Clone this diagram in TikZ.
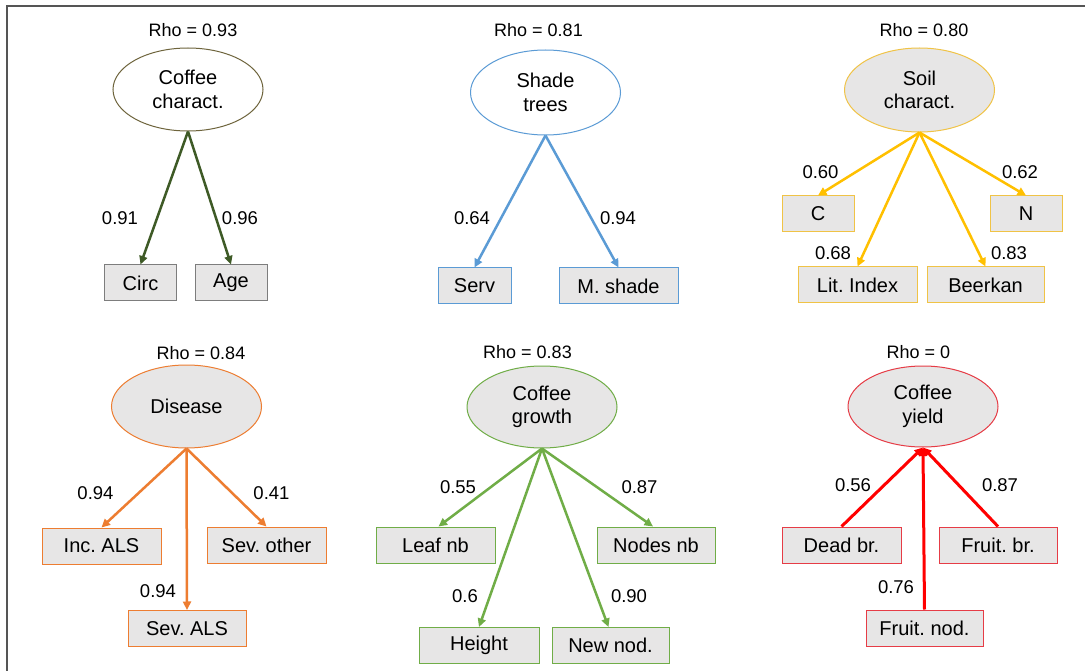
\documentclass[tikz,border=0pt]{standalone}
\usepackage{fontspec}
\setmainfont{Liberation Sans}
\usetikzlibrary{shapes.geometric,arrows.meta}
\frenchspacing
\definecolor{framecol}{RGB}{85,85,85}
\definecolor{boxfill}{RGB}{231,230,230}
\definecolor{ellfill}{RGB}{231,230,230}
\definecolor{dgreen}{RGB}{62,90,38}
\definecolor{olive}{RGB}{110,100,60}
\definecolor{gbox}{RGB}{125,125,125}
\definecolor{blue1}{RGB}{91,155,213}
\definecolor{yel}{RGB}{255,192,0}
\definecolor{yelline}{RGB}{240,195,70}
\definecolor{orng}{RGB}{237,125,49}
\definecolor{grn}{RGB}{112,173,71}
\definecolor{redc}{RGB}{255,0,0}
\definecolor{redline}{RGB}{230,60,70}
\tikzset{
  ell/.style={ellipse, minimum width=150, minimum height=83, inner sep=0pt, line width=1, align=center, font=\fontsize{20}{23.5}\selectfont},
  bx/.style={rectangle, fill=boxfill, line width=1, minimum width=118, minimum height=36, inner sep=0pt, font=\fontsize{20}{23}\selectfont},
  sbx/.style={bx, minimum width=72},
  lbl/.style={inner sep=0pt, font=\fontsize{18.5}{22}\selectfont},
  rho/.style={inner sep=0pt, font=\fontsize{18}{21}\selectfont},
  arr/.style={line width=2.5, -{Triangle[length=8.5,width=8]}},
}
\begin{document}
\begin{tikzpicture}[x=1pt,y=-1pt]
\useasboundingbox (0,0) rectangle (1085,671);
\fill[white] (0,0) rectangle (1085,671);
\draw[framecol, line width=2] (7,671) -- (7,6) -- (1085,6);

% Panel 1
\node[rho] (rho1) at (193,30) {Rho = 0.93};
\node[ell, draw=olive, fill=white] (e1) at (188,89.5) {Coffee\\charact.};
\node[sbx, draw=gbox] (circ) at (140.5,283) {Circ};
\node[sbx, draw=gbox] (age) at (231,283) {Age};
\draw[arr, dgreen] (e1.south) -- (circ.north);
\draw[arr, dgreen] (e1.south) -- (age.north);
\node[lbl] (l11) at (120,218) {0.91};
\node[lbl] (l12) at (240,218) {0.96};

% Panel 2
\node[rho] (rho2) at (538.5,30) {Rho = 0.81};
\node[ell, draw=blue1, fill=white, minimum height=85] (e2) at (545.5,92.5) {Shade\\trees};
\node[sbx, draw=blue1, minimum width=73] (serv) at (474.5,286) {Serv};
\node[bx, draw=blue1, minimum width=119] (mshade) at (618.5,286) {M. shade};
\draw[arr, blue1] (e2.south) -- (serv.north);
\draw[arr, blue1] (e2.south) -- (mshade.north);
\node[lbl] (l21) at (472,218) {0.64};
\node[lbl] (l22) at (618,218) {0.94};

% Panel 3
\node[rho] (rho3) at (924,30) {Rho = 0.80};
\node[ell, draw=yelline, fill=ellfill, minimum height=84] (e3) at (919.5,90) {Soil\\charact.};
\node[sbx, draw=yelline] (c) at (818,214) {C};
\node[sbx, draw=yelline] (n) at (1026,214) {N};
\node[bx, draw=yelline, minimum width=119] (lit) at (857.5,285) {Lit. Index};
\node[bx, draw=yelline, minimum width=117] (beer) at (985.5,285) {Beerkan};
\draw[arr, yel] (e3.south) -- (c.north);
\draw[arr, yel] (e3.south) -- (n.north);
\draw[arr, yel] (e3.south) -- (lit.north);
\draw[arr, yel] (e3.south) -- (beer.north);
\node[lbl] (l31) at (820.5,172) {0.60};
\node[lbl] (l32) at (1020,172) {0.62};
\node[lbl] (l33) at (833,253) {0.68};
\node[lbl] (l34) at (1009,253) {0.83};

% Panel 4
\node[rho] (rho4) at (201,353) {Rho = 0.84};
\node[ell, draw=orng, fill=ellfill] (e4) at (186.5,406.5) {Disease};
\node[bx, draw=orng, minimum width=119] (incals) at (101.5,546) {Inc. ALS};
\node[bx, draw=orng, minimum width=119] (sevother) at (266.5,545) {Sev. other};
\node[bx, draw=orng] (sevals) at (187,628.5) {Sev. ALS};
\draw[arr, orng] (e4.south) -- (incals.north);
\draw[arr, orng] (e4.south) -- (sevother.north);
\draw[arr, orng] (e4.south) -- (sevals.north);
\node[lbl] (l41) at (95.5,493) {0.94};
\node[lbl] (l42) at (271.5,493) {0.41};
\node[lbl] (l43) at (158,591) {0.94};

% Panel 5
\node[rho] (rho5) at (527.5,352) {Rho = 0.83};
\node[ell, draw=grn, fill=ellfill, minimum height=82] (e5) at (542,407) {Coffee\\growth};
\node[bx, draw=grn, minimum width=119] (leaf) at (435.5,545) {Leaf nb};
\node[bx, draw=grn] (nodesnb) at (656,545) {Nodes nb};
\node[bx, draw=grn, minimum width=120] (height) at (479,645.5) {Height};
\node[bx, draw=grn, minimum width=117] (newnod) at (610.5,645.5) {New nod.};
\draw[arr, grn] (e5.south) -- ([xshift=3]leaf.north);
\draw[arr, grn] (e5.south) -- ([xshift=-3]nodesnb.north);
\draw[arr, grn] (e5.south) -- (height.north);
\draw[arr, grn] (e5.south) -- ([xshift=-2]newnod.north);
\node[lbl] (l51) at (458,487) {0.55};
\node[lbl] (l52) at (639.5,487) {0.87};
\node[lbl] (l53) at (465,596) {0.6};
\node[lbl] (l54) at (629,596) {0.90};

% Panel 6
\node[rho] (rho6) at (918.5,352) {Rho = 0};
\node[ell, draw=redline, fill=ellfill, minimum height=81] (e6) at (923,406.5) {Coffee\\yield};
\node[bx, draw=redline, minimum width=119] (deadbr) at (841.5,545) {Dead br.};
\node[bx, draw=redline] (fruitbr) at (998,545) {Fruit. br.};
\node[bx, draw=redline, minimum width=117] (fruitnod) at (924.5,628) {Fruit. nod.};
\draw[arr, redc, line width=3] (deadbr.north) -- (e6.south);
\draw[arr, redc, line width=3] (fruitbr.north) -- (e6.south);
\draw[arr, redc, line width=3] (fruitnod.north) -- (e6.south);
\node[lbl] (l61) at (853,485) {0.56};
\node[lbl] (l62) at (1000,485) {0.87};
\node[lbl] (l63) at (896,587) {0.76};
\end{tikzpicture}
\end{document}
